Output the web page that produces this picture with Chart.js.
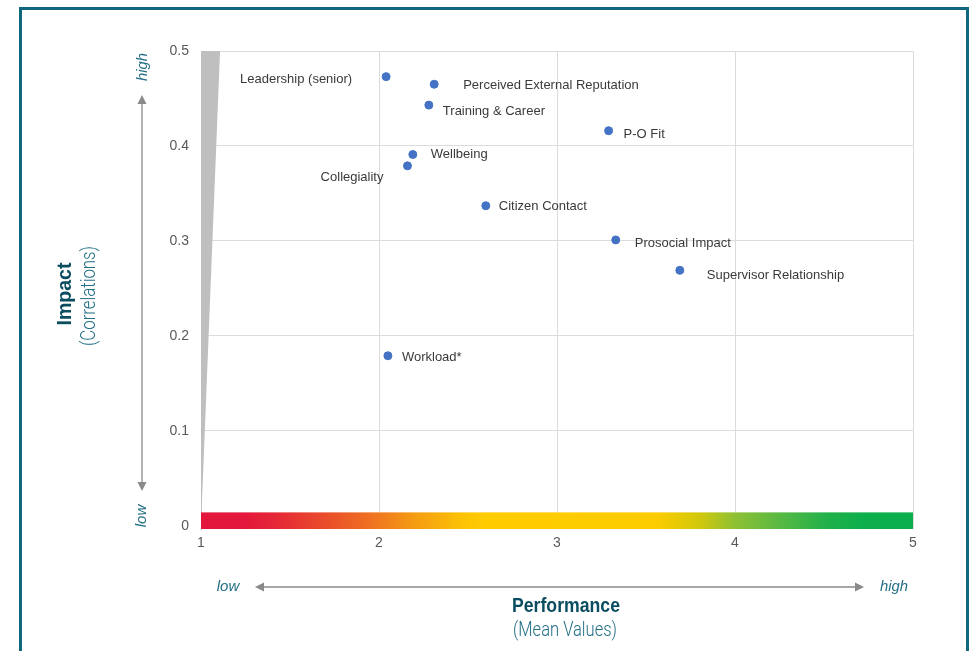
<!DOCTYPE html>
<html>
<head>
<meta charset="utf-8">
<script src="https://cdn.jsdelivr.net/npm/chart.js@4/dist/chart.umd.min.js"></script>
<style>
  html, body { margin: 0; padding: 0; background: #ffffff; }
  #wrap { position: relative; width: 975px; height: 651px; overflow: hidden; }
  #frame { position: absolute; left: 19px; top: 7px; width: 944px; height: 700px; border: 3px solid #11677f; }
  #c { position: absolute; left: 0; top: 0; }
</style>
</head>
<body>
<div id="wrap">
  <div id="frame"></div>
  <canvas id="c" width="975" height="651"></canvas>
</div>
<script>
// Engagement drivers: performance (mean value) vs. impact (correlation)
const dimensions = [
  'Leadership (senior)', 'Perceived External Reputation', 'Training & Career', 'P-O Fit',
  'Wellbeing', 'Collegiality', 'Citizen Contact', 'Prosocial Impact',
  'Supervisor Relationship', 'Workload*'
];
const performance = [2.04, 2.31, 2.28, 3.29, 2.19, 2.16, 2.60, 3.33, 3.69, 2.05];
const impact      = [0.473, 0.465, 0.443, 0.416, 0.391, 0.379, 0.337, 0.301, 0.269, 0.179];

const xTicks = [1, 2, 3, 4, 5];
const yTicks = [0, 0.1, 0.2, 0.3, 0.4, 0.5];

// Grey reference wedge rising from the origin
const wedgeX = [1, 1.107, 1];
const wedgeY = [0, 0.5, 0.5];

// Red-to-green performance band along the x axis
const bandX = [1, 5];
const bandY = [-0.0035, 0.014];

// Label placement around each point (pixel offsets)
const labelPlacement = {
  'Leadership (senior)':           { dx: -34, dy: 3,  align: 'right' },
  'Perceived External Reputation': { dx: 29,  dy: 1,  align: 'left' },
  'Training & Career':             { dx: 14,  dy: 6,  align: 'left' },
  'P-O Fit':                       { dx: 15,  dy: 4,  align: 'left' },
  'Wellbeing':                     { dx: 18,  dy: 0,  align: 'left' },
  'Collegiality':                  { dx: -24, dy: 12, align: 'right' },
  'Citizen Contact':               { dx: 13,  dy: 1,  align: 'left' },
  'Prosocial Impact':              { dx: 19,  dy: 4,  align: 'left' },
  'Supervisor Relationship':       { dx: 27,  dy: 5,  align: 'left' },
  'Workload*':                     { dx: 14,  dy: 2,  align: 'left' }
};

const bandStops = [
  [0.00, '#e3163b'], [0.06, '#e3163b'], [0.11, '#e52a36'], [0.17, '#e94a2c'],
  [0.24, '#ef7221'], [0.30, '#f59c13'], [0.37, '#fcc405'], [0.40, '#ffcc00'],
  [0.64, '#fccc00'], [0.70, '#d2c80c'], [0.75, '#8ec034'], [0.82, '#52b844'],
  [0.88, '#20b04a'], [0.93, '#0daf4c'], [1.00, '#0aae4c']
];

const FONT = "'Liberation Sans', Arial, Helvetica, sans-serif";
const TEAL = '#236f86';
const TEAL_DARK = '#0b4d60';
const ARROW = '#8a8a8a';

const backdrop = {
  id: 'backdrop',
  beforeDatasetsDraw(chart) {
    const { ctx, scales: { x, y } } = chart;
    ctx.save();
    // wedge
    ctx.beginPath();
    wedgeX.forEach((v, i) => {
      const px = x.getPixelForValue(v), py = y.getPixelForValue(wedgeY[i]);
      if (i === 0) ctx.moveTo(px, py); else ctx.lineTo(px, py);
    });
    ctx.closePath();
    ctx.fillStyle = '#bfbfbf';
    ctx.fill();
    // band
    const x0 = x.getPixelForValue(bandX[0]), x1 = x.getPixelForValue(bandX[1]);
    const y0 = y.getPixelForValue(bandY[1]), y1 = y.getPixelForValue(bandY[0]);
    const g = ctx.createLinearGradient(x0, 0, x1, 0);
    bandStops.forEach(s => g.addColorStop(s[0], s[1]));
    ctx.fillStyle = g;
    ctx.fillRect(x0, y0, x1 - x0, y1 - y0);
    ctx.restore();
  }
};

const pointLabels = {
  id: 'pointLabels',
  afterDatasetsDraw(chart) {
    const { ctx } = chart;
    const meta = chart.getDatasetMeta(0);
    ctx.save();
    ctx.font = '13px ' + FONT;
    ctx.fillStyle = '#3a3a3a';
    ctx.textBaseline = 'middle';
    meta.data.forEach((pt, i) => {
      const name = dimensions[i];
      const p = labelPlacement[name];
      ctx.textAlign = p.align;
      ctx.fillText(name, pt.x + p.dx, pt.y + p.dy);
    });
    ctx.restore();
  }
};

function arrowHead(ctx, tx, ty, dir) {
  // dir: 'up' | 'down' | 'left' | 'right'
  const L = 9, W = 4.5;
  ctx.beginPath();
  ctx.moveTo(tx, ty);
  if (dir === 'up')    { ctx.lineTo(tx - W, ty + L); ctx.lineTo(tx + W, ty + L); }
  if (dir === 'down')  { ctx.lineTo(tx - W, ty - L); ctx.lineTo(tx + W, ty - L); }
  if (dir === 'left')  { ctx.lineTo(tx + L, ty - W); ctx.lineTo(tx + L, ty + W); }
  if (dir === 'right') { ctx.lineTo(tx - L, ty - W); ctx.lineTo(tx - L, ty + W); }
  ctx.closePath();
  ctx.fill();
}

const axisNotes = {
  id: 'axisNotes',
  afterDraw(chart) {
    const { ctx } = chart;
    ctx.save();
    ctx.strokeStyle = ARROW;
    ctx.fillStyle = ARROW;
    ctx.lineWidth = 1.3;

    // vertical double arrow
    ctx.beginPath(); ctx.moveTo(142, 102); ctx.lineTo(142, 484); ctx.stroke();
    arrowHead(ctx, 142, 95, 'up');
    arrowHead(ctx, 142, 491, 'down');

    // horizontal double arrow
    ctx.beginPath(); ctx.moveTo(262, 587); ctx.lineTo(857, 587); ctx.stroke();
    arrowHead(ctx, 255, 587, 'left');
    arrowHead(ctx, 864, 587, 'right');

    ctx.textBaseline = 'middle';
    ctx.textAlign = 'center';

    // rotated low / high and y title
    ctx.save();
    ctx.translate(143, 67); ctx.rotate(-Math.PI / 2);
    ctx.font = 'italic 15px ' + FONT; ctx.fillStyle = TEAL;
    ctx.fillText('high', 0, 0, 28);
    ctx.restore();

    ctx.save();
    ctx.translate(142, 516); ctx.rotate(-Math.PI / 2);
    ctx.font = 'italic 15px ' + FONT; ctx.fillStyle = TEAL;
    ctx.fillText('low', 0, 0, 23);
    ctx.restore();

    ctx.save();
    ctx.translate(65, 294); ctx.rotate(-Math.PI / 2);
    ctx.font = 'bold 21px ' + FONT; ctx.fillStyle = TEAL_DARK;
    ctx.fillText('Impact', 0, 0, 63);
    ctx.restore();

    ctx.save();
    ctx.translate(90, 296); ctx.rotate(-Math.PI / 2);
    ctx.font = '300 20px Roboto, ' + FONT; ctx.fillStyle = TEAL;
    ctx.fillText('(Correlations)', 0, 0, 100);
    ctx.restore();

    // x-axis notes
    ctx.font = 'italic 15px ' + FONT; ctx.fillStyle = TEAL;
    ctx.fillText('low', 228, 587, 23);
    ctx.fillText('high', 894, 587, 28);

    ctx.font = 'bold 21px ' + FONT; ctx.fillStyle = TEAL_DARK;
    ctx.fillText('Performance', 566, 606, 108);
    ctx.font = '300 20px Roboto, ' + FONT; ctx.fillStyle = TEAL;
    ctx.fillText('(Mean Values)', 565, 631, 104);

    ctx.restore();
  }
};

new Chart(document.getElementById('c'), {
  type: 'scatter',
  data: {
    datasets: [{
      label: 'Drivers',
      data: performance.map((v, i) => ({ x: v, y: impact[i] })),
      backgroundColor: '#4472c4',
      borderColor: '#4472c4',
      pointRadius: 4,
      pointHoverRadius: 4
    }]
  },
  options: {
    responsive: false,
    animation: false,
    layout: { padding: { left: 0, right: 62, top: 51, bottom: 0 } },
    plugins: { legend: { display: false }, tooltip: { enabled: false } },
    scales: {
      x: {
        type: 'linear',
        min: xTicks[0],
        max: xTicks[xTicks.length - 1],
        afterBuildTicks: s => { s.ticks = xTicks.map(v => ({ value: v })); },
        afterFit: s => { s.height = 122; },
        grid: { color: '#dcdcdc', drawTicks: false },
        border: { display: false },
        ticks: { padding: 6, color: '#595959', font: { family: FONT, size: 14 } }
      },
      y: {
        type: 'linear',
        min: bandY[0],
        max: yTicks[yTicks.length - 1],
        afterBuildTicks: s => { s.ticks = yTicks.map(v => ({ value: v })); },
        afterFit: s => { s.width = 201; },
        grid: { color: '#dcdcdc', drawTicks: false },
        border: { display: true, color: '#cfcfcf' },
        ticks: {
          padding: 12, color: '#595959', font: { family: FONT, size: 14 },
          callback: v => (v === 0 ? '0' : v.toFixed(1))
        }
      }
    }
  },
  plugins: [backdrop, pointLabels, axisNotes]
});
</script>
</body>
</html>
